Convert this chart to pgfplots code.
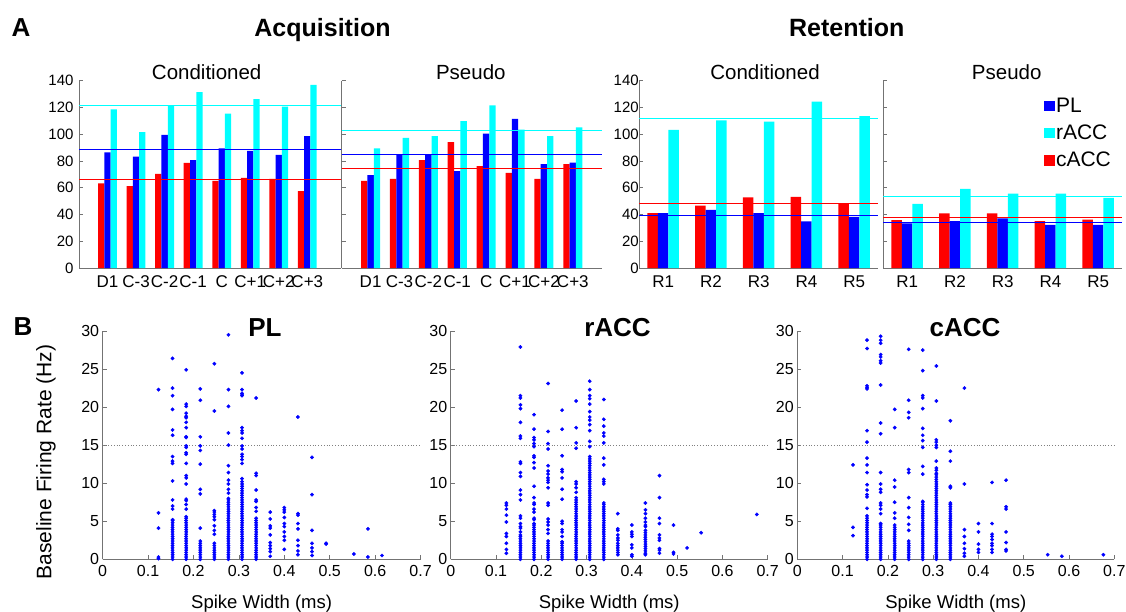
\documentclass[border=0pt]{standalone}
\usepackage{fontspec}
\setmainfont{Liberation Sans}
\usepackage{pgfplots}
\pgfplotsset{compat=1.18}
\definecolor{mred}{RGB}{255,0,0}
\definecolor{mblue}{RGB}{0,0,255}
\definecolor{mcyan}{RGB}{0,255,255}
\pgfplotsset{
  mybase/.style={scale only axis, anchor=south west,
    axis x line=bottom, axis y line=left,
    axis line style={-, draw=black!55, line width=0.6pt},
    x axis line style={-}, y axis line style={-},
    tick align=inside, major tick length=4pt,
    tick style={draw=black!55, line width=0.6pt},
    /pgf/number format/assume math mode=true,
    clip=false},
  barax/.style={mybase, height=187.3pt, ymin=0, ymax=140, ytick={0,20,...,140},
    major x tick style={draw=none},
    yticklabel style={font=\fontsize{15}{17}\selectfont},
    xticklabel style={font=\fontsize{17}{19}\selectfont, yshift=-4.5pt}},
  lineax/.style={scale only axis, anchor=south west, height=187.3pt, ymin=0, ymax=140,
    hide axis, clip=false},
  scax/.style={mybase, height=228.3pt, xmin=0, xmax=0.7, ymin=0, ymax=30,
    xtick={0,0.1,0.2,0.3,0.4,0.5,0.6,0.7}, ytick={0,5,10,15,20,25,30},
    xticklabel style={font=\fontsize{16}{18}\selectfont, yshift=-2pt},
    yticklabel style={font=\fontsize{16}{18}\selectfont}},
  redbar/.style={ybar, bar width=0.22, bar shift=-0.22, fill=mred, draw=none, forget plot},
  bluebar/.style={ybar, bar width=0.22, bar shift=0, fill=mblue, draw=none, forget plot},
  cyanbar/.style={ybar, bar width=0.22, bar shift=0.22, fill=mcyan, draw=none, forget plot},
  mline/.style={draw=#1, line width=1pt, forget plot},
  dots/.style={only marks, mark=*, mark size=1.7pt, draw=mblue, fill=mblue, mark options={draw=mblue, fill=mblue}, forget plot},
}
\begin{document}
\begin{tikzpicture}
\useasboundingbox (0pt,0pt) rectangle (1126pt,-612pt);
% ---------- titles ----------
\node[anchor=base, font=\fontsize{26}{28}\selectfont\bfseries] at (21pt,-36.5pt) {A};
\node[anchor=base, font=\fontsize{25}{28}\selectfont\bfseries] at (322.5pt,-36.5pt) {Acquisition};
\node[anchor=base, font=\fontsize{25}{28}\selectfont\bfseries] at (846.7pt,-36.5pt) {Retention};
\node[anchor=base, font=\fontsize{20.5}{22}\selectfont] at (206.7pt,-80pt) {Conditioned};
\node[anchor=base, font=\fontsize{20.5}{22}\selectfont] at (470.8pt,-80pt) {Pseudo};
\node[anchor=base, font=\fontsize{20.5}{22}\selectfont] at (765pt,-80pt) {Conditioned};
\node[anchor=base, font=\fontsize{20.5}{22}\selectfont] at (1006.7pt,-80pt) {Pseudo};

% ---------- Acquisition: Conditioned ----------
\begin{axis}[barax, at={(79pt,-268pt)}, width=262pt, xmin=0, xmax=9.18,
  xtick={1,2,3,4,5,6,7,8}, xticklabels={D1,C-3,C-2,C-1,C,C+1,C+2,C+3},
  yticklabel style={xshift=-2pt}]
\addplot[redbar] coordinates {(1,63.2)(2,61.2)(3,70.4)(4,78.6)(5,65.2)(6,67.4)(7,66.6)(8,57.4)};
\addplot[bluebar] coordinates {(1,86.5)(2,83.3)(3,99.5)(4,80.6)(5,89.5)(6,87.5)(7,84.5)(8,98.5)};
\addplot[cyanbar] coordinates {(1,118.6)(2,101.5)(3,121.4)(4,131.5)(5,115.4)(6,126.3)(7,120.6)(8,136.8)};
\end{axis}
\begin{axis}[lineax, at={(79pt,-268pt)}, width=262pt, xmin=0, xmax=9.18]
\addplot[mline=mcyan] coordinates {(0,121.4)(9.18,121.4)};
\addplot[mline=mblue] coordinates {(0,88.5)(9.18,88.5)};
\addplot[mline=mred] coordinates {(0,65.9)(9.18,65.9)};
\end{axis}

% ---------- Acquisition: Pseudo ----------
\begin{axis}[barax, at={(341.7pt,-268pt)}, width=260pt, xmin=0, xmax=9,
  xtick={1,2,3,4,5,6,7,8}, xticklabels={D1,C-3,C-2,C-1,C,C+1,C+2,C+3},
  yticklabels={,,,,,,,,}]
\addplot[redbar] coordinates {(1,65.2)(2,66.6)(3,80.6)(4,94.0)(5,76.1)(6,71.1)(7,66.6)(8,77.6)};
\addplot[bluebar] coordinates {(1,69.4)(2,85.0)(3,85.0)(4,72.4)(5,100.5)(6,111.4)(7,77.6)(8,78.8)};
\addplot[cyanbar] coordinates {(1,89.5)(2,97.2)(3,98.5)(4,109.7)(5,121.6)(6,103.4)(7,98.5)(8,105.2)};
\end{axis}
\begin{axis}[lineax, at={(341.7pt,-268pt)}, width=260pt, xmin=0, xmax=9]
\addplot[mline=mcyan] coordinates {(0,102.9)(9,102.9)};
\addplot[mline=mblue] coordinates {(0,85.0)(9,85.0)};
\addplot[mline=mred] coordinates {(0,74.6)(9,74.6)};
\end{axis}

% ---------- Retention: Conditioned ----------
\begin{axis}[barax, at={(639.3pt,-268pt)}, width=238.7pt, xmin=0.5, xmax=5.5,
  xtick={1,2,3,4,5}, xticklabels={R1,R2,R3,R4,R5},
  yticklabel style={xshift=3pt}]
\addplot[redbar] coordinates {(1,41.0)(2,46.7)(3,52.7)(4,53.2)(5,48.0)};
\addplot[bluebar] coordinates {(1,41.0)(2,43.5)(3,41.0)(4,34.8)(5,38.3)};
\addplot[cyanbar] coordinates {(1,103.2)(2,110.4)(3,109.4)(4,124.3)(5,113.6)};
\end{axis}
\begin{axis}[lineax, at={(639.3pt,-268pt)}, width=238.7pt, xmin=0.5, xmax=5.5]
\addplot[mline=mcyan] coordinates {(0.5,112.1)(5.5,112.1)};
\addplot[mline=mred] coordinates {(0.5,48.2)(5.5,48.2)};
\addplot[mline=mblue] coordinates {(0.5,39.5)(5.5,39.5)};
\end{axis}

% ---------- Retention: Pseudo ----------
\begin{axis}[barax, at={(883.3pt,-268pt)}, width=238.7pt, xmin=0.5, xmax=5.5,
  xtick={1,2,3,4,5}, xticklabels={R1,R2,R3,R4,R5},
  yticklabels={,,,,,,,,},
  legend style={at={(0.673,0.92)}, anchor=north west, draw=none, fill=none,
    font=\fontsize{21}{23}\selectfont, inner sep=0pt, row sep=7pt,
    column sep=0pt, cells={anchor=west}},
  legend image code/.code={\fill[#1] (0pt,-4.7pt) rectangle (9.5pt,4.7pt);}]
\addlegendimage{mblue}
\addlegendimage{mcyan}
\addlegendimage{mred}
\legend{PL,rACC,cACC}
\addplot[redbar] coordinates {(1,35.8)(2,40.8)(3,40.8)(4,35.1)(5,36.1)};
\addplot[bluebar] coordinates {(1,33.3)(2,35.1)(3,37.1)(4,32.3)(5,32.3)};
\addplot[cyanbar] coordinates {(1,48.0)(2,59.2)(3,55.5)(4,55.5)(5,52.5)};
\end{axis}
\begin{axis}[lineax, at={(883.3pt,-268pt)}, width=238.7pt, xmin=0.5, xmax=5.5]
\addplot[mline=mcyan] coordinates {(0.5,53.7)(5.5,53.7)};
\addplot[mline=mred] coordinates {(0.5,38.0)(5.5,38.0)};
\addplot[mline=mblue] coordinates {(0.5,34.1)(5.5,34.1)};
\end{axis}

% ---------- B labels ----------
\node[anchor=base, font=\fontsize{26}{28}\selectfont\bfseries] at (23pt,-335.5pt) {B};
\node[rotate=90, font=\fontsize{21}{23}\selectfont] at (46pt,-462pt) {Baseline Firing Rate (Hz)};
\node[anchor=base, font=\fontsize{26}{28}\selectfont\bfseries] at (265pt,-336.7pt) {PL};
\node[anchor=base, font=\fontsize{26}{28}\selectfont\bfseries] at (617.5pt,-336.7pt) {rACC};
\node[anchor=base, font=\fontsize{26}{28}\selectfont\bfseries] at (965pt,-336.7pt) {cACC};
\node[anchor=base, font=\fontsize{18.5}{20}\selectfont] at (261.6pt,-608pt) {Spike Width (ms)};
\node[anchor=base, font=\fontsize{18.5}{20}\selectfont] at (609.2pt,-608pt) {Spike Width (ms)};
\node[anchor=base, font=\fontsize{18.5}{20}\selectfont] at (955.8pt,-608pt) {Spike Width (ms)};

% ---------- PL scatter ----------
\begin{axis}[scax, at={(102.6pt,-559.3pt)}, width=318pt]
\addplot[draw=gray, dotted, line width=0.8pt, forget plot] coordinates {(0,15)(0.7,15)};
\addplot[dots] coordinates {
(0.123,22.3)(0.123,6.1)(0.123,4.1)(0.123,0.3)(0.123,0.1)
(0.154,26.4)(0.154,22.5)(0.154,21.5)(0.154,19.7)(0.154,17.0)(0.154,16.3)(0.154,13.5)(0.154,12.9)(0.154,12.6)(0.154,10.3)(0.154,7.8)(0.154,7.0)(0.154,6.6)(0.154,5.2)
(0.154,0)(0.154,0.3)(0.154,0.6)(0.154,0.9)(0.154,1.2)(0.154,1.5)(0.154,1.8)(0.154,2.1)(0.154,2.4)(0.154,2.7)(0.154,3.0)(0.154,3.3)(0.154,3.6)(0.154,3.9)(0.154,4.2)(0.154,4.5)(0.154,4.8)(0.154,5.1)
(0.184,24.9)(0.184,20.4)(0.184,20.1)(0.184,19.2)(0.184,18.8)(0.184,18.6)(0.184,18.0)(0.184,17.3)(0.184,16.1)(0.184,16.0)(0.184,14.9)(0.184,14.7)(0.184,14.0)(0.184,13.8)(0.184,12.6)(0.184,11.0)(0.184,10.7)(0.184,9.9)(0.184,7.9)(0.184,7.7)(0.184,7.2)(0.184,6.6)(0.184,5.6)
(0.184,0)(0.184,0.3)(0.184,0.6)(0.184,0.9)(0.184,1.2)(0.184,1.5)(0.184,1.8)(0.184,2.1)(0.184,2.4)(0.184,2.7)(0.184,3.0)(0.184,3.3)(0.184,3.6)(0.184,3.9)(0.184,4.2)(0.184,4.5)(0.184,4.8)(0.184,5.1)(0.184,5.4)
(0.215,22.4)(0.215,20.9)(0.215,16.1)(0.215,14.9)(0.215,14.3)(0.215,12.5)(0.215,9.2)(0.215,8.6)(0.215,4.1)
(0.215,0)(0.215,0.3)(0.215,0.6)(0.215,0.9)(0.215,1.2)(0.215,1.5)(0.215,1.8)(0.215,2.1)(0.215,2.4)
(0.246,25.7)(0.246,19.5)(0.246,6.4)(0.246,6.2)(0.246,5.9)(0.246,5.6)(0.246,5.2)(0.246,4.4)(0.246,3.8)(0.246,3.3)(0.246,2.1)(0.246,1.8)(0.246,1.5)(0.246,1.2)(0.246,0.9)(0.246,0.6)(0.246,0.3)(0.246,0)
(0.277,29.5)(0.277,22.3)(0.277,20.1)(0.277,16.6)(0.277,15.0)(0.277,12.3)(0.277,11.4)(0.277,10.4)(0.277,9.9)(0.277,9.2)(0.277,8.7)(0.277,8.0)
(0.277,0)(0.277,0.3)(0.277,0.6)(0.277,0.9)(0.277,1.2)(0.277,1.5)(0.277,1.8)(0.277,2.1)(0.277,2.4)(0.277,2.7)(0.277,3.0)(0.277,3.3)(0.277,3.6)(0.277,3.9)(0.277,4.2)(0.277,4.5)(0.277,4.8)(0.277,5.1)(0.277,5.4)(0.277,5.7)(0.277,6.0)(0.277,6.3)(0.277,6.6)(0.277,6.9)(0.277,7.2)(0.277,7.5)(0.277,7.8)
(0.307,24.5)(0.307,22.3)(0.307,21.8)(0.307,21.6)(0.307,21.5)(0.307,17.3)(0.307,16.9)(0.307,16.6)(0.307,15.9)(0.307,14.9)(0.307,14.5)(0.307,13.8)(0.307,13.5)(0.307,13.1)(0.307,12.6)(0.307,10.6)(0.307,10.2)(0.307,9.9)
(0.307,0)(0.307,0.3)(0.307,0.6)(0.307,0.9)(0.307,1.2)(0.307,1.5)(0.307,1.8)(0.307,2.1)(0.307,2.4)(0.307,2.7)(0.307,3.0)(0.307,3.3)(0.307,3.6)(0.307,3.9)(0.307,4.2)(0.307,4.5)(0.307,4.8)(0.307,5.1)(0.307,5.4)(0.307,5.7)(0.307,6.0)(0.307,6.3)(0.307,6.6)(0.307,6.9)(0.307,7.2)(0.307,7.5)(0.307,7.8)(0.307,8.1)(0.307,8.4)(0.307,8.7)(0.307,9.0)(0.307,9.3)(0.307,9.6)
(0.338,21.2)(0.338,11.3)(0.338,11.0)(0.338,9.1)(0.338,7.8)(0.338,7.6)(0.338,6.8)(0.338,6.3)
(0.338,0)(0.338,0.3)(0.338,0.6)(0.338,0.9)(0.338,1.2)(0.338,1.5)(0.338,1.8)(0.338,2.1)(0.338,2.4)(0.338,2.7)(0.338,3.0)(0.338,3.3)(0.338,3.6)(0.338,3.9)(0.338,4.2)(0.338,4.5)(0.338,4.8)(0.338,5.1)(0.338,5.4)
(0.369,6.2)(0.369,5.3)(0.369,4.4)(0.369,4.1)(0.369,3.2)(0.369,2.2)(0.369,1.8)(0.369,1.4)(0.369,1.0)(0.369,0.4)
(0.400,6.8)(0.400,6.5)(0.400,6.2)(0.400,5.5)(0.400,4.7)(0.400,4.3)(0.400,3.6)(0.400,3.0)(0.400,2.5)(0.400,1.3)
(0.430,18.7)(0.430,6.0)(0.430,5.8)(0.430,4.7)(0.430,4.0)(0.430,2.5)(0.430,1.8)(0.430,1.1)(0.430,0.6)
(0.461,13.4)(0.461,8.5)(0.461,3.8)(0.461,2.1)(0.461,1.5)(0.461,1.0)(0.461,0.5)
(0.492,2.1)(0.492,2.0)(0.553,0.7)(0.584,4.0)(0.584,0.3)(0.615,0.5)
};
\end{axis}

% ---------- rACC scatter ----------
\begin{axis}[scax, at={(450.7pt,-559.3pt)}, width=317pt]
\addplot[draw=gray, dotted, line width=0.8pt, forget plot] coordinates {(0,15)(0.7,15)};
\addplot[dots] coordinates {
(0.123,7.4)(0.123,7.1)(0.123,6.6)(0.123,5.8)(0.123,4.9)(0.123,3.4)(0.123,3.0)(0.123,2.1)(0.123,1.3)(0.123,0.8)
(0.154,27.9)(0.154,21.5)(0.154,21.2)(0.154,20.3)(0.154,19.8)(0.154,18.0)(0.154,16.2)(0.154,15.9)(0.154,12.8)(0.154,12.6)(0.154,11.4)(0.154,10.9)(0.154,9.1)(0.154,8.5)(0.154,7.8)(0.154,5.7)(0.154,5.4)(0.154,4.7)(0.154,4.3)(0.154,4.1)(0.154,3.6)(0.154,3.2)
(0.154,0)(0.154,0.3)(0.154,0.6)(0.154,0.9)(0.154,1.2)(0.154,1.5)(0.154,1.8)(0.154,2.1)(0.154,2.4)(0.154,2.7)(0.154,3.0)
(0.184,19.0)(0.184,17.1)(0.184,16.0)(0.184,15.7)(0.184,15.2)(0.184,14.8)(0.184,13.6)(0.184,13.4)(0.184,12.7)(0.184,12.0)(0.184,9.6)(0.184,8.1)(0.184,7.4)(0.184,7.2)(0.184,6.6)(0.184,6.2)(0.184,5.4)(0.184,5.2)(0.184,4.7)
(0.184,0)(0.184,0.3)(0.184,0.6)(0.184,0.9)(0.184,1.2)(0.184,1.5)(0.184,1.8)(0.184,2.1)(0.184,2.4)(0.184,2.7)(0.184,3.0)(0.184,3.3)(0.184,3.6)(0.184,3.9)(0.184,4.2)(0.184,4.5)
(0.215,23.1)(0.215,16.8)(0.215,15.2)(0.215,14.5)(0.215,12.3)(0.215,11.6)(0.215,11.2)(0.215,10.7)(0.215,10.4)(0.215,10.1)(0.215,9.4)(0.215,7.4)(0.215,7.1)(0.215,5.3)(0.215,4.9)(0.215,4.5)(0.215,3.9)(0.215,3.4)
(0.215,0)(0.215,0.3)(0.215,0.6)(0.215,0.9)(0.215,1.2)(0.215,1.5)(0.215,1.8)(0.215,2.1)(0.215,2.4)
(0.246,19.6)(0.246,17.1)(0.246,13.6)(0.246,11.8)(0.246,11.5)(0.246,10.7)(0.246,9.2)(0.246,7.9)(0.246,5.0)(0.246,4.7)(0.246,3.9)(0.246,3.6)(0.246,3.0)(0.246,2.3)
(0.246,0)(0.246,0.3)(0.246,0.6)(0.246,0.9)(0.246,1.2)(0.246,1.5)(0.246,1.8)(0.246,2.1)
(0.277,20.8)(0.277,17.3)(0.277,15.3)(0.277,14.6)(0.277,10.2)(0.277,9.9)(0.277,9.4)(0.277,8.8)
(0.277,0)(0.277,0.3)(0.277,0.6)(0.277,0.9)(0.277,1.2)(0.277,1.5)(0.277,1.8)(0.277,2.1)(0.277,2.4)(0.277,2.7)(0.277,3.0)(0.277,3.3)(0.277,3.6)(0.277,3.9)(0.277,4.2)(0.277,4.5)(0.277,4.8)(0.277,5.1)(0.277,5.4)(0.277,5.7)(0.277,6.0)(0.277,6.3)(0.277,6.6)(0.277,6.9)(0.277,7.2)(0.277,7.5)(0.277,7.8)(0.277,8.1)
(0.307,23.4)(0.307,22.3)(0.307,21.5)(0.307,21.1)(0.307,20.4)(0.307,19.4)(0.307,18.7)(0.307,18.3)(0.307,17.7)(0.307,16.9)(0.307,15.5)(0.307,14.8)
(0.307,0)(0.307,0.3)(0.307,0.6)(0.307,0.9)(0.307,1.2)(0.307,1.5)(0.307,1.8)(0.307,2.1)(0.307,2.4)(0.307,2.7)(0.307,3.0)(0.307,3.3)(0.307,3.6)(0.307,3.9)(0.307,4.2)(0.307,4.5)(0.307,4.8)(0.307,5.1)(0.307,5.4)(0.307,5.7)(0.307,6.0)(0.307,6.3)(0.307,6.6)(0.307,6.9)(0.307,7.2)(0.307,7.5)(0.307,7.8)(0.307,8.1)(0.307,8.4)(0.307,8.7)(0.307,9.0)(0.307,9.3)(0.307,9.6)(0.307,9.9)(0.307,10.2)(0.307,10.5)(0.307,10.8)(0.307,11.1)(0.307,11.4)(0.307,11.7)(0.307,12.0)(0.307,12.3)(0.307,12.6)(0.307,12.9)(0.307,13.2)(0.307,13.5)
(0.338,21.0)(0.338,18.4)(0.338,17.5)(0.338,16.6)(0.338,16.2)(0.338,15.3)(0.338,13.3)(0.338,12.4)(0.338,10.5)(0.338,10.2)(0.338,9.9)(0.338,7.4)
(0.338,0)(0.338,0.3)(0.338,0.6)(0.338,0.9)(0.338,1.2)(0.338,1.5)(0.338,1.8)(0.338,2.1)(0.338,2.4)(0.338,2.7)(0.338,3.0)(0.338,3.3)(0.338,3.6)(0.338,3.9)(0.338,4.2)(0.338,4.5)(0.338,4.8)(0.338,5.1)(0.338,5.4)(0.338,5.7)(0.338,6.0)(0.338,6.3)(0.338,6.6)(0.338,6.9)(0.338,7.2)
(0.369,6.0)(0.369,4.0)(0.369,3.8)(0.369,3.2)(0.369,2.8)(0.369,2.5)(0.369,2.1)(0.369,1.8)(0.369,1.5)(0.369,1.2)(0.369,0.9)(0.369,0.6)
(0.400,4.5)(0.400,3.6)(0.400,3.3)(0.400,3.0)(0.400,1.9)(0.400,1.5)(0.400,0.6)(0.400,0.4)
(0.430,7.4)(0.430,6.5)(0.430,6.0)(0.430,5.4)(0.430,4.9)(0.430,4.5)(0.430,4.3)(0.430,3.8)(0.430,3.5)(0.430,3.2)(0.430,2.9)(0.430,2.6)(0.430,2.3)(0.430,2.0)(0.430,1.7)(0.430,1.4)(0.430,1.1)(0.430,0.8)(0.430,0.6)
(0.461,11.0)(0.461,8.1)(0.461,5.4)(0.461,4.7)(0.461,3.2)(0.461,2.8)(0.461,2.5)(0.461,1.4)(0.461,1.2)(0.461,0.8)
(0.492,4.5)(0.492,0.9)(0.492,0.7)(0.522,1.5)(0.553,3.5)(0.676,5.9)
};
\end{axis}

% ---------- cACC scatter ----------
\begin{axis}[scax, at={(797.3pt,-559.3pt)}, width=317pt]
\addplot[draw=gray, dotted, line width=0.8pt, forget plot] coordinates {(0,15)(0.7,15)};
\addplot[dots] coordinates {
(0.123,12.4)(0.123,4.2)(0.123,3.1)
(0.154,28.8)(0.154,27.7)(0.154,22.8)(0.154,22.6)(0.154,22.4)(0.154,16.9)(0.154,15.4)(0.154,13.3)(0.154,12.4)(0.154,11.4)(0.154,9.8)(0.154,9.1)(0.154,8.5)(0.154,8.2)(0.154,6.7)
(0.154,0)(0.154,0.3)(0.154,0.6)(0.154,0.9)(0.154,1.2)(0.154,1.5)(0.154,1.8)(0.154,2.1)(0.154,2.4)(0.154,2.7)(0.154,3.0)(0.154,3.3)(0.154,3.6)(0.154,3.9)(0.154,4.2)(0.154,4.5)(0.154,4.8)(0.154,5.1)(0.154,5.4)(0.154,5.7)
(0.184,29.3)(0.184,28.8)(0.184,28.4)(0.184,26.9)(0.184,26.6)(0.184,26.1)(0.184,25.8)(0.184,22.9)(0.184,17.9)(0.184,16.5)(0.184,11.4)(0.184,9.9)(0.184,9.2)(0.184,8.8)(0.184,7.4)(0.184,7.1)(0.184,6.6)(0.184,6.0)(0.184,4.7)
(0.184,0)(0.184,0.3)(0.184,0.6)(0.184,0.9)(0.184,1.2)(0.184,1.5)(0.184,1.8)(0.184,2.1)(0.184,2.4)(0.184,2.7)(0.184,3.0)(0.184,3.3)(0.184,3.6)(0.184,3.9)(0.184,4.2)(0.184,4.5)
(0.215,19.7)(0.215,17.3)(0.215,10.4)(0.215,9.5)(0.215,7.5)(0.215,6.1)(0.215,5.4)
(0.215,0)(0.215,0.3)(0.215,0.6)(0.215,0.9)(0.215,1.2)(0.215,1.5)(0.215,1.8)(0.215,2.1)(0.215,2.4)(0.215,2.7)(0.215,3.0)(0.215,3.3)(0.215,3.6)(0.215,3.9)(0.215,4.2)(0.215,4.5)
(0.246,27.6)(0.246,20.9)(0.246,19.3)(0.246,18.6)(0.246,11.8)(0.246,11.4)(0.246,8.1)(0.246,6.8)(0.246,5.5)(0.246,4.6)(0.246,3.8)
(0.246,0)(0.246,0.3)(0.246,0.6)(0.246,0.9)(0.246,1.2)(0.246,1.5)(0.246,1.8)(0.246,2.1)(0.246,2.4)
(0.277,27.5)(0.277,24.8)(0.277,21.5)(0.277,21.2)(0.277,19.8)(0.277,17.2)(0.277,16.3)(0.277,15.6)(0.277,14.7)(0.277,12.2)(0.277,11.2)(0.277,7.6)
(0.277,0)(0.277,0.3)(0.277,0.6)(0.277,0.9)(0.277,1.2)(0.277,1.5)(0.277,1.8)(0.277,2.1)(0.277,2.4)(0.277,2.7)(0.277,3.0)(0.277,3.3)(0.277,3.6)(0.277,3.9)(0.277,4.2)(0.277,4.5)(0.277,4.8)(0.277,5.1)(0.277,5.4)(0.277,5.7)(0.277,6.0)(0.277,6.3)(0.277,6.6)(0.277,6.9)(0.277,7.2)(0.277,7.5)
(0.307,25.4)(0.307,20.8)(0.307,15.7)(0.307,15.4)(0.307,15.0)(0.307,14.7)(0.307,12.9)(0.307,12.0)(0.307,11.7)(0.307,11.3)
(0.307,0)(0.307,0.3)(0.307,0.6)(0.307,0.9)(0.307,1.2)(0.307,1.5)(0.307,1.8)(0.307,2.1)(0.307,2.4)(0.307,2.7)(0.307,3.0)(0.307,3.3)(0.307,3.6)(0.307,3.9)(0.307,4.2)(0.307,4.5)(0.307,4.8)(0.307,5.1)(0.307,5.4)(0.307,5.7)(0.307,6.0)(0.307,6.3)(0.307,6.6)(0.307,6.9)(0.307,7.2)(0.307,7.5)(0.307,7.8)(0.307,8.1)(0.307,8.4)(0.307,8.7)(0.307,9.0)(0.307,9.3)(0.307,9.6)(0.307,9.9)(0.307,10.2)(0.307,10.5)(0.307,10.8)(0.307,11.1)
(0.338,18.2)(0.338,14.2)(0.338,12.9)(0.338,9.6)(0.338,9.4)(0.338,7.4)
(0.338,0)(0.338,0.3)(0.338,0.6)(0.338,0.9)(0.338,1.2)(0.338,1.5)(0.338,1.8)(0.338,2.1)(0.338,2.4)(0.338,2.7)(0.338,3.0)(0.338,3.3)(0.338,3.6)(0.338,3.9)(0.338,4.2)(0.338,4.5)(0.338,4.8)(0.338,5.1)(0.338,5.4)(0.338,5.7)(0.338,6.0)(0.338,6.3)(0.338,6.6)(0.338,6.9)(0.338,7.2)
(0.369,22.5)(0.369,9.9)(0.369,3.9)(0.369,3.0)(0.369,2.1)(0.369,1.4)(0.369,0.8)(0.369,0.4)
(0.400,4.7)(0.400,3.6)(0.400,2.0)(0.400,1.3)(0.400,0.9)
(0.430,10.1)(0.430,4.7)(0.430,3.3)(0.430,3.0)(0.430,2.6)(0.430,2.1)(0.430,1.8)(0.430,1.3)(0.430,0.9)
(0.461,10.4)(0.461,6.9)(0.461,6.6)(0.461,3.6)(0.461,2.2)(0.461,1.3)(0.461,1.1)
(0.553,0.6)(0.584,0.4)(0.676,0.6)
};
\end{axis}
\end{tikzpicture}
\end{document}
